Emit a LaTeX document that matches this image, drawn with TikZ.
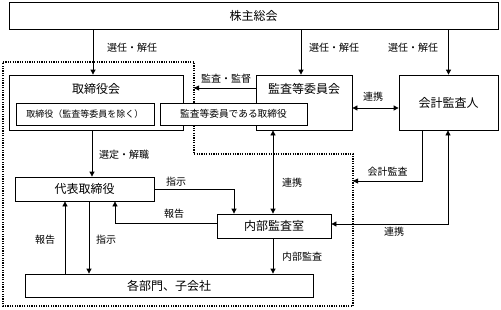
\documentclass[tikz,border=0pt]{standalone}
\usepackage{fontspec}
\setmainfont{Noto Sans CJK JP}
\usetikzlibrary{arrows.meta,calc}
\begin{document}
\begin{tikzpicture}[x=1pt,y=-1pt,
  box/.style={draw, line width=0.8pt, fill=white, inner sep=0pt, font=\fontsize{12}{14}\selectfont},
  ibox/.style={box, font=\fontsize{9}{11}\selectfont},
  ttl/.style={inner sep=0pt, font=\fontsize{12}{14}\selectfont},
  lbl/.style={inner sep=0pt, font=\fontsize{10}{12}\selectfont},
  arr/.style={line width=0.8pt, -{Triangle[length=5pt,width=5pt]}},
  darr/.style={line width=0.8pt, {Triangle[length=5pt,width=5pt]}-{Triangle[length=5pt,width=5pt]}},
  dots/.style={line width=1.2pt, dash pattern=on 1.2pt off 1.2pt}]
\useasboundingbox (0,0) rectangle (501,309);
\fill[white] (0,0) rectangle (501,309);
% dotted region
\draw[dots] (3,62) -- (194,62) -- (194,154) -- (353,154) -- (353,306) -- (3,306) -- cycle;
% boxes
\node[box, minimum width=489pt, minimum height=27pt] (top) at (253.5,15.5) {株主総会};
\node[box, minimum width=174pt, minimum height=55pt] (board) at (96,102.5) {};
\node[ttl] (boardt) at (96,89) {取締役会};
\node[box, minimum width=96pt, minimum height=55pt] (ac) at (304,102.5) {};
\node[ttl] (act) at (304,89) {監査等委員会};
\node[ibox, minimum width=138pt, minimum height=22pt] (in1) at (85,114) {取締役（監査等委員を除く）};
\node[ibox, minimum width=147pt, minimum height=22pt, font=\fontsize{9.7}{11}\selectfont] (in2) at (233.5,114) {監査等委員である取締役};
\node[box, minimum width=99pt, minimum height=55pt] (aud) at (448.5,102.5) {会計監査人};
\node[box, minimum width=139pt, minimum height=24pt] (rep) at (84.5,189) {代表取締役};
\node[box, minimum width=114pt, minimum height=24pt] (ia) at (274,226) {内部監査室};
\node[box, minimum width=288pt, minimum height=23pt] (dept) at (169,285.5) {各部門、子会社};
% connectors
\coordinate (xa) at (93,0);
\draw[arr] (top.south -| xa) -- (board.north -| xa);
\coordinate (xb) at (301,0);
\draw[arr] (top.south -| xb) -- (ac.north -| xb);
\draw[arr] (top.south -| aud.north) -- (aud.north);
\coordinate (kk) at (194,88);
\draw[arr] (ac.west |- kk) -- (kk);
\coordinate (yr) at (0,108);
\draw[darr] (ac.east |- yr) -- (aud.west |- yr);
\coordinate (xc) at (273,0);
\draw[darr] (ac.south -| xc) -- (ia.north -| xc);
\coordinate (xd) at (92,0);
\draw[arr] (board.south -| xd) -- (rep.north -| xd);
\coordinate (c1) at (234,189);
\draw[arr] (rep.east |- c1) -- (c1) -- (ia.north -| c1);
\coordinate (c2) at (115,223);
\draw[arr] (ia.west |- c2) -- (c2) -- (rep.south -| c2);
\coordinate (xe) at (65,0);
\draw[arr] (dept.north -| xe) -- (rep.south -| xe);
\coordinate (xf) at (89,0);
\draw[arr] (rep.south -| xf) -- (dept.north -| xf);
\draw[arr] (ia.south -| xc) -- (dept.north -| xc);
\coordinate (c3) at (422,181);
\coordinate (c3e) at (353,181);
\draw[arr] (aud.south -| c3) -- (c3) -- (c3e);
\coordinate (c4) at (448,224);
\draw[darr] (aud.south -| c4) -- (c4) -- (ia.east |- c4);
% labels
\node[lbl] (l1) at (132,48) {選任・解任};
\node[lbl] (l2) at (334,48) {選任・解任};
\node[lbl] (l3) at (413,48) {選任・解任};
\node[lbl] (l4) at (226,79) {監査・監督};
\node[lbl] (l5) at (373,97) {連携};
\node[lbl] (l6) at (124,155) {選定・解職};
\node[lbl] (l7) at (292,183) {連携};
\node[lbl] (l8) at (387.5,172) {会計監査};
\node[lbl] (l9) at (176,182) {指示};
\node[lbl] (l10) at (174,214) {報告};
\node[lbl] (l11) at (394,232) {連携};
\node[lbl] (l12) at (45,240) {報告};
\node[lbl] (l13) at (106,240) {指示};
\node[lbl] (l14) at (302,257) {内部監査};
\end{tikzpicture}
\end{document}
